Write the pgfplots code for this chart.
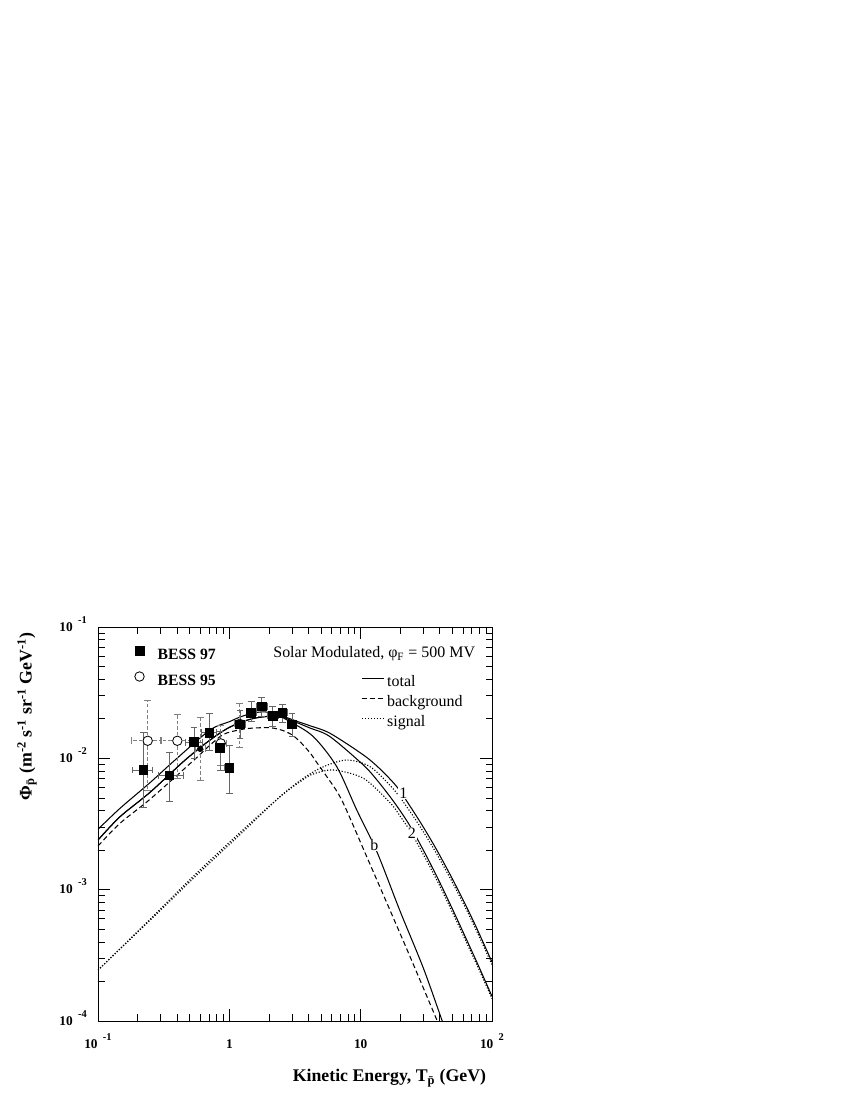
\documentclass[border=0pt]{standalone}
\usepackage{fontspec}
\setmainfont{Liberation Serif}
\usepackage{pgfplots}
\usepackage{pgfplotstable}
\pgfplotsset{compat=1.18}

\newcommand\tkf{\fontsize{9.6}{11}\selectfont\bfseries}
\newcommand\lbf{\fontsize{12.8}{15}\selectfont\bfseries}
\newcommand\lgf{\fontsize{11.5}{13}\selectfont}
\newcommand\lgb{\fontsize{11.3}{13}\selectfont\bfseries}
\newcommand\ex[1]{\hspace{0.4em}\raisebox{0.62em}{\fontsize{7.5}{8}\selectfont\bfseries #1}}

\pgfplotstableread{
x y
0.1 2.88e-3
0.147 4.16e-3
0.249 6.53e-3
0.386 9.71e-3
0.713 0.01643
1.0 0.0190
1.2 0.0206
1.48 0.0220
1.75 0.02255
2.04 0.02235
2.5 0.0211
2.9 0.0200
3.5 0.0187
4.12 0.0177
5.85 0.01550
10.5 0.0106
14.06 8.29e-3
18.84 6.08e-3
23.7 4.34e-3
29.85 3.02e-3
37.6 2.04e-3
47.3 1.338e-3
59.6 8.54e-4
75 5.31e-4
100 2.81e-4
}\totone

\pgfplotstableread{
x y
0.1 2.386e-3
0.147 3.59e-3
0.249 5.51e-3
0.461 9.71e-3
0.713 0.01378
1.012 0.01731
1.515 0.02009
2.296 0.0210
2.90 0.0196
4.12 0.0170
5.85 0.01461
10.49 8.89e-3
13.3 6.84e-3
16.75 5.10e-3
20.4 3.87e-3
24.5 2.90e-3
31.9 1.78e-3
40.2 1.125e-3
50 7.11e-4
60.5 4.71e-4
78 2.70e-4
100 1.54e-4
}\tottwo

\pgfplotstableread{
x y
0.1 2.386e-3
0.147 3.59e-3
0.249 5.51e-3
0.461 9.71e-3
0.713 0.01378
1.012 0.01731
1.515 0.02009
2.296 0.0210
2.90 0.0190
4.36 0.01463
6.58 8.63e-3
9.34 4.04e-3
13.3 1.94e-3
19.95 6.87e-4
30.0 2.53e-4
41.5 1.02e-4
45 8.2e-5
}\totb

\pgfplotstableread{
x y
0.1 2.15e-3
0.147 3.20e-3
0.249 4.88e-3
0.532 9.6e-3
0.70 0.0124
0.90 0.0152
1.2 0.0165
1.52 0.0170
2.04 0.0171
2.5 0.0164
3.0 0.0151
3.5 0.0132
4.12 0.0110
4.63 9.3e-3
5.5 7.3e-3
7.18 4.81e-3
11.13 1.78e-3
16.7 7.0e-4
23.8 3.08e-4
38.0 1.02e-4
41 8.5e-5
}\bg

\pgfplotstableread{
x y
0.1 2.44e-4
0.249 5.85e-4
0.548 1.254e-3
1.206 2.63e-3
2.43 5.1e-3
3.66 7.05e-3
5.2 8.63e-3
7.84 9.71e-3
11.8 8.63e-3
17.7 5.85e-3
23.7 3.95e-3
29.85 2.78e-3
37.6 1.90e-3
47.3 1.258e-3
59.6 8.07e-4
75 5.04e-4
100 2.68e-4
}\sigone

\pgfplotstableread{
x y
0.1 2.44e-4
0.249 5.95e-4
0.548 1.30e-3
1.206 2.72e-3
2.43 5.1e-3
3.66 6.9e-3
4.36 7.6e-3
6.2 8.15e-3
10.5 7.04e-3
16.7 4.6e-3
20.4 3.52e-3
24.5 2.67e-3
31.9 1.655e-3
40.2 1.058e-3
50 6.72e-4
60.5 4.47e-4
78 2.58e-4
100 1.48e-4
}\sigtwo

\pgfplotstableread{
x y xm xp ym yp
0.221 0.00815 0.0385 0.038 0.00391 0.00752
0.349 0.00743 0.061 0.097 0.0027 0.00367
0.538 0.0133 0.078 0.082 0.0033 0.0039
0.704 0.01567 0.088 0.096 0.0041 0.0065
0.850 0.01205 0.05 0.05 0.0040 0.0040
1.0 0.00848 0.08 0.08 0.00307 0.00414
1.206 0.01815 0.10 0.12 0.00396 0.00495
1.463 0.0223 0.12 0.14 0.00332 0.0047
1.765 0.0249 0.16 0.18 0.0042 0.0043
2.14 0.0210 0.19 0.21 0.0036 0.0040
2.53 0.0223 0.18 0.22 0.0036 0.0036
3.00 0.01815 0.25 0.25 0.0035 0.0039
}\bessA

\pgfplotstableread{
x y xm xp ym yp
0.239 0.0136 0.061 0.067 0.0079 0.0142
0.402 0.0136 0.105 0.146 0.0066 0.0081
0.86 0.0130 0.08 0.095 0.0042 0.0048
1.2 0.0183 0.10 0.12 0.0061 0.0081
}\bessB

\pgfplotstableread{
x y xm xp ym yp
0.60 0.0118 0.05 0.06 0.0050 0.0086
}\bessC

\begin{document}
\begin{tikzpicture}[x=0.72pt,y=0.72pt]
\useasboundingbox (0,0) rectangle (850,1100);
\begin{axis}[
  at={(70.56pt,56.88pt)}, anchor=south west,
  width=283.68pt, height=283.68pt, scale only axis,
  xmode=log, ymode=log,
  xmin=0.1, xmax=100, ymin=1e-4, ymax=1e-1,
  xtick={0.1,1,10,100},
  xticklabels={{10\ex{-1}},1,10,{10\ex{2}}},
  ytick={1e-4,1e-3,1e-2,1e-1},
  yticklabels={{10\ex{-4}},{10\ex{-3}},{10\ex{-2}},{10\ex{-1}}},
  minor xtick={0.2,0.3,0.4,0.5,0.6,0.7,0.8,0.9,2,3,4,5,6,7,8,9,20,30,40,50,60,70,80,90},
  minor ytick={2e-4,3e-4,4e-4,5e-4,6e-4,7e-4,8e-4,9e-4,2e-3,3e-3,4e-3,5e-3,6e-3,7e-3,8e-3,9e-3,2e-2,3e-2,4e-2,5e-2,6e-2,7e-2,8e-2,9e-2},
  major tick length=8.6pt, minor tick length=4.7pt,
  tick style={black, line width=0.5pt},
  axis line style={line width=0.6pt},
  xticklabel style={font=\tkf, anchor=base, inner sep=0pt, yshift=-19.7pt},
  yticklabel style={font=\tkf, anchor=base east, inner sep=0pt, xshift=-7.9pt, yshift=-3.1pt},
  legend image code/.code={\draw[#1] (0pt,3pt) -- (15.6pt,3pt);},
  legend style={draw=none, fill=none, at={(0.669,0.877)}, anchor=north west,
    inner sep=0pt, outer sep=0pt, row sep=3.9pt, column sep=2pt, font=\lgf,
    nodes={inner sep=0pt, text height=8pt, text depth=2.5pt}},
  legend cell align=left,
]
\addplot[black, line width=0.75pt, smooth, forget plot] table {\totb};
\addplot[black, line width=0.75pt, smooth, forget plot] table {\tottwo};
\addplot[black, line width=0.75pt, smooth, forget plot] table {\totone};
\addplot[black, line width=0.75pt, dash pattern=on 3.6pt off 2.2pt, smooth, forget plot] table {\bg};
\addplot[black, line width=0.8pt, dash pattern=on 0.8pt off 1.3pt, smooth, forget plot] table {\sigone};
\addplot[black, line width=0.8pt, dash pattern=on 0.8pt off 1.3pt, smooth, forget plot] table {\sigtwo};
\addlegendimage{black, line width=0.75pt}
\addlegendentry{total}
\addlegendimage{black, line width=0.75pt, dash pattern=on 3.6pt off 2.2pt}
\addlegendentry{background}
\addlegendimage{black, line width=0.8pt, dash pattern=on 0.8pt off 1.3pt}
\addlegendentry{signal}
\node[fill=white, inner sep=0.6pt, font=\lgf] at (axis cs:21.1,5.41e-3) {1};
\node[fill=white, inner sep=0.6pt, font=\lgf] at (axis cs:24.5,2.69e-3) {2};
\node[fill=white, inner sep=0.6pt, font=\lgf] at (axis cs:12.72,2.19e-3) {b};
\node[anchor=base east, font=\lgf] at (rel axis cs:0.9695,0.9218) {Solar Modulated, φ\textsubscript{F} = 500 MV};
\end{axis}

\begin{axis}[
  at={(70.56pt,56.88pt)}, anchor=south west,
  width=283.68pt, height=283.68pt, scale only axis,
  xmode=log, ymode=log,
  xmin=0.1, xmax=100, ymin=1e-4, ymax=1e-1,
  hide axis,
  legend image code/.code={\draw[#1] plot coordinates {(0pt,3.6pt)};},
  legend style={draw=none, fill=none, at={(0.0934,0.9508)}, anchor=north west,
    inner sep=0pt, outer sep=0pt, row sep=6.35pt, column sep=9.7pt, font=\lgb,
    nodes={inner sep=0pt, text height=8pt, text depth=2.5pt}},
  legend cell align=left,
]
\addplot[only marks, mark=none, forget plot,
  error bars/.cd, x dir=both, x explicit, y dir=both, y explicit,
  error bar style={gray, line width=0.5pt, dash pattern=on 2.5pt off 1.5pt},
  error mark options={rotate=90, mark size=2.5pt, gray, line width=0.5pt, solid}]
  table[x=x, y=y, x error minus=xm, x error plus=xp, y error minus=ym, y error plus=yp] {\bessC};
\addplot[only marks, mark=*, mark size=3.4pt, black, mark options={fill=white, draw=black, line width=0.6pt}, forget plot,
  error bars/.cd, x dir=both, x explicit, y dir=both, y explicit,
  error bar style={gray, line width=0.5pt, dash pattern=on 2.5pt off 1.5pt},
  error mark options={rotate=90, mark size=2.5pt, gray, line width=0.5pt, solid}]
  table[x=x, y=y, x error minus=xm, x error plus=xp, y error minus=ym, y error plus=yp] {\bessB};
\addplot[only marks, mark=square*, mark size=3.1pt, black, mark options={fill=black, draw=black}, forget plot,
  error bars/.cd, x dir=both, x explicit, y dir=both, y explicit,
  error bar style={black!60, line width=0.5pt},
  error mark options={rotate=90, mark size=2.5pt, black!60, line width=0.5pt}]
  table[x=x, y=y, x error minus=xm, x error plus=xp, y error minus=ym, y error plus=yp] {\bessA};
\addlegendimage{only marks, mark=square*, mark size=3.1pt, black, mark options={fill=black, draw=black}}
\addlegendentry{BESS 97}
\addlegendimage{only marks, mark=*, mark size=3.4pt, black, mark options={fill=white, draw=black, line width=0.6pt}}
\addlegendentry{BESS 95}
\end{axis}

\node[rotate=90, anchor=east, font=\lbf] at (27,472) {Φ\textsubscript{\=p} (m\textsuperscript{-2} s\textsuperscript{-1} sr\textsuperscript{-1} GeV\textsuperscript{-1})};
\node[anchor=base east, font=\lbf] at (491,18.5) {Kinetic Energy, T\textsubscript{\=p} (GeV)};
\end{tikzpicture}
\end{document}
